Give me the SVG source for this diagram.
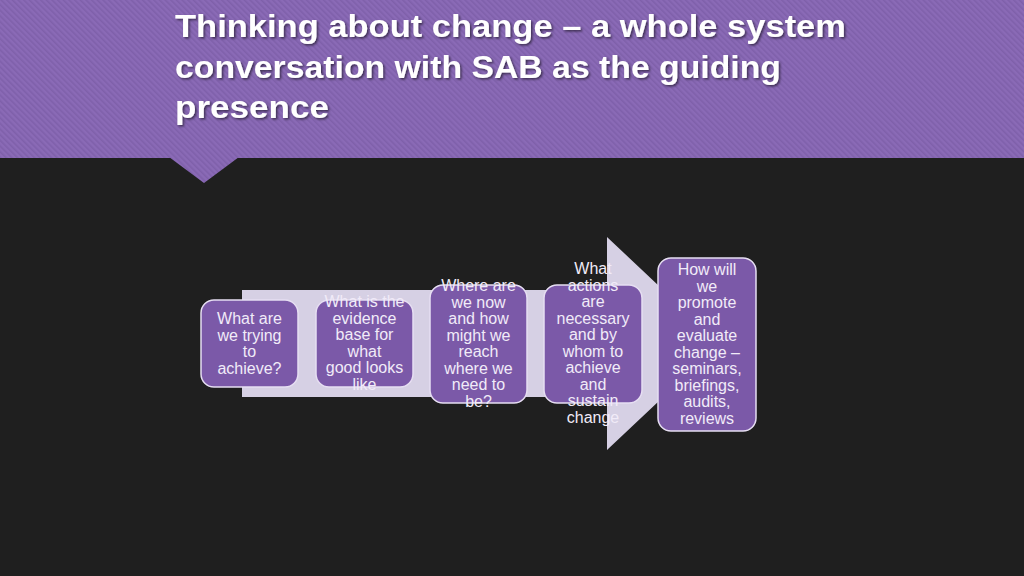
<svg xmlns="http://www.w3.org/2000/svg" width="1024" height="576" viewBox="0 0 1024 576">
  <defs>
    <pattern id="stripes" width="4" height="4" patternUnits="userSpaceOnUse" patternTransform="rotate(-45)">
      <rect width="4" height="4" fill="#8a6ab6"/>
      <rect width="1.6" height="4" fill="#7f60aa"/>
    </pattern>
    <filter id="shadow" x="-5%" y="-20%" width="110%" height="140%">
      <feDropShadow dx="1.5" dy="1.5" stdDeviation="1" flood-color="#000" flood-opacity="0.55"/>
    </filter>
  </defs>
  <style>
    .title { font-family: "Liberation Sans", Arial, sans-serif; font-weight: bold; font-size: 31px; fill: #ffffff; }
    .box { fill: #7b59a8; stroke: #e6def2; stroke-width: 1.5; }
    .lbl { font-family: "Liberation Sans", Arial, sans-serif; font-size: 16px; fill: #f1ebf8; text-anchor: middle; }
  </style>
  <rect width="1024" height="576" fill="#1f1f1f"/>
  <g id="header">
    <rect x="0" y="0" width="1024" height="158" fill="url(#stripes)"/>
    <polygon points="169,157 239,157 204,183" fill="url(#stripes)"/>
    <g filter="url(#shadow)">
      <text class="title" x="175" y="37" textLength="671" lengthAdjust="spacingAndGlyphs">Thinking about change – a whole system</text>
      <text class="title" x="175" y="78" textLength="606" lengthAdjust="spacingAndGlyphs">conversation with SAB as the guiding</text>
      <text class="title" x="175" y="118" textLength="154" lengthAdjust="spacingAndGlyphs">presence</text>
    </g>
  </g>
  <g id="connectors">
    <polygon points="242,290 607,290 607,237 720,343.5 607,450 607,397 242,397" fill="#d6d0e4"/>
  </g>
  <g id="node1">
    <rect class="box" x="201" y="300" width="97" height="87" rx="13"/>
    <text class="lbl" x="249.5" y="324">What are</text>
    <text class="lbl" x="249.5" y="340.5">we trying</text>
    <text class="lbl" x="249.5" y="357">to</text>
    <text class="lbl" x="249.5" y="373.5">achieve?</text>
  </g>
  <g id="node2">
    <rect class="box" x="316" y="300" width="97" height="87" rx="13"/>
    <text class="lbl" x="364.5" y="307">What is the</text>
    <text class="lbl" x="364.5" y="323.5">evidence</text>
    <text class="lbl" x="364.5" y="340">base for</text>
    <text class="lbl" x="364.5" y="356.5">what</text>
    <text class="lbl" x="364.5" y="373">good looks</text>
    <text class="lbl" x="364.5" y="389.5">like</text>
  </g>
  <g id="node3">
    <rect class="box" x="430" y="285" width="97" height="118" rx="13"/>
    <text class="lbl" x="478.5" y="291">Where are</text>
    <text class="lbl" x="478.5" y="307.5">we now</text>
    <text class="lbl" x="478.5" y="324">and how</text>
    <text class="lbl" x="478.5" y="340.5">might we</text>
    <text class="lbl" x="478.5" y="357">reach</text>
    <text class="lbl" x="478.5" y="373.5">where we</text>
    <text class="lbl" x="478.5" y="390">need to</text>
    <text class="lbl" x="478.5" y="406.5">be?</text>
  </g>
  <g id="node4">
    <rect class="box" x="544" y="285" width="98" height="118" rx="13"/>
    <text class="lbl" x="593" y="274">What</text>
    <text class="lbl" x="593" y="290.5">actions</text>
    <text class="lbl" x="593" y="307">are</text>
    <text class="lbl" x="593" y="323.5">necessary</text>
    <text class="lbl" x="593" y="340">and by</text>
    <text class="lbl" x="593" y="356.5">whom to</text>
    <text class="lbl" x="593" y="373">achieve</text>
    <text class="lbl" x="593" y="389.5">and</text>
    <text class="lbl" x="593" y="406">sustain</text>
    <text class="lbl" x="593" y="422.5">change</text>
  </g>
  <g id="node5">
    <rect class="box" x="658" y="258" width="98" height="173" rx="13"/>
    <text class="lbl" x="707" y="275">How will</text>
    <text class="lbl" x="707" y="291.5">we</text>
    <text class="lbl" x="707" y="308">promote</text>
    <text class="lbl" x="707" y="324.5">and</text>
    <text class="lbl" x="707" y="341">evaluate</text>
    <text class="lbl" x="707" y="357.5">change –</text>
    <text class="lbl" x="707" y="374">seminars,</text>
    <text class="lbl" x="707" y="390.5">briefings,</text>
    <text class="lbl" x="707" y="407">audits,</text>
    <text class="lbl" x="707" y="423.5">reviews</text>
  </g>
</svg>
